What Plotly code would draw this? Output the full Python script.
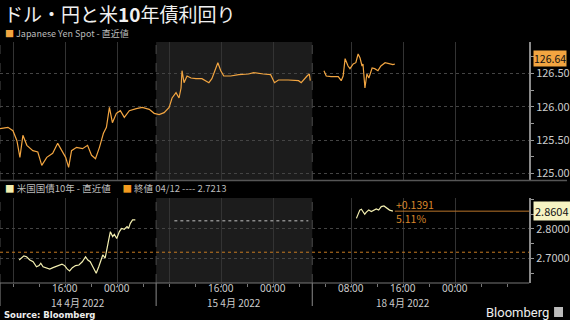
import plotly.graph_objects as go

# time axis: trading hours since 14 Apr 2022 06:00 (weekend removed; 18 Apr 02:00 -> 48)
yen_t = [0, 1.22, 1.99, 2.6, 3.06, 3.52, 4.13, 5.05, 5.81, 6.42, 7.19, 8.1, 8.87, 9.48, 10.09,
         10.55, 11.0, 11.77, 12.69, 13.46, 14.07, 14.68, 15.29, 15.9, 16.36, 16.82, 17.28, 17.89,
         18.5, 19.11, 19.88, 20.95, 21.87, 22.94, 23.7, 24.46, 25.23, 26.0, 26.45, 27.06, 27.52,
         27.83, 27.98, 28.29, 28.75, 29.36, 30.12, 31.04, 32.11, 32.57, 33.18, 33.49, 33.94, 34.4,
         35.47, 36.7, 38.2, 39.0, 40.5, 41.6, 42.2, 42.8, 44.3, 45.9, 46.3, 46.8, 47.2, 47.55, 47.7,
         48.7,
         49.8, 50.15, 50.9, 52.0, 52.45, 52.75, 53.05, 53.5, 53.8, 54.3, 54.7, 55.05, 55.35, 55.65,
         55.8, 56.1, 56.4, 56.7, 57.2, 57.6, 58.1, 58.55, 59.2, 59.9, 60.4, 60.7]
yen_v = [125.67, 125.69, 125.64, 125.49, 125.24, 125.57, 125.42, 125.34, 125.32, 125.12, 125.24,
         125.30, 125.45, 125.34, 125.24, 125.09, 125.34, 125.39, 125.37, 125.42, 125.27, 125.22,
         125.39, 125.60, 125.69, 125.99, 125.76, 125.90, 125.94, 125.84, 125.94, 125.97, 125.99,
         125.96, 125.90, 125.88, 125.91, 125.99, 126.13, 126.21, 126.13, 126.28, 126.54, 126.36,
         126.46, 126.43, 126.42, 126.42, 126.36, 126.42, 126.57, 126.66, 126.54, 126.46, 126.46,
         126.48, 126.49, 126.51, 126.49, 126.48, 126.36, 126.40, 126.40, 126.39, 126.36, 126.42,
         126.46, 126.49, 126.39,
         None,
         126.54, 126.46, 126.45, 126.45, 126.39, 126.46, 126.72, 126.61, 126.57, 126.64, 126.66,
         126.79, 126.73, 126.61, 126.64, 126.28, 126.49, 126.43, 126.58, 126.57, 126.54, 126.61,
         126.66, 126.64, 126.63, 126.64]

ust_t = [2.95, 3.32, 3.67, 4.08, 4.59, 5.09, 5.61, 6.01, 6.27, 6.62, 7.14, 7.65, 8.15, 8.67, 9.17,
         9.53, 9.94, 10.35, 10.7, 11.12, 11.62, 12.13, 12.65, 13.15, 13.5, 13.87, 14.27, 14.79,
         15.18, 15.55, 15.8, 16.16, 16.41, 16.71, 16.97, 17.32, 17.58, 17.94, 18.35, 18.7, 19.11,
         19.53, 19.77, 20.03, 20.38, 20.8,
         37.0,
         54.79, 55.05, 55.31, 55.55, 55.81, 56.07, 56.32, 56.68, 57.08, 57.49, 57.84, 58.21, 58.61,
         59.02, 59.37, 59.63, 59.89, 60.4]
ust_v = [2.695, 2.701, 2.709, 2.706, 2.695, 2.689, 2.672, 2.676, 2.684, 2.672, 2.669, 2.664, 2.669,
         2.674, 2.678, 2.681, 2.676, 2.664, 2.658, 2.669, 2.676, 2.678, 2.689, 2.706, 2.695, 2.689,
         2.672, 2.650, 2.672, 2.695, 2.712, 2.701, 2.735, 2.763, 2.791, 2.774, 2.782, 2.768, 2.791,
         2.802, 2.799, 2.808, 2.802, 2.819, 2.831, 2.831,
         None,
         2.836, 2.853, 2.864, 2.867, 2.859, 2.850, 2.857, 2.864, 2.859, 2.864, 2.868, 2.864, 2.876,
         2.878, 2.872, 2.870, 2.864, 2.8604]

yen_last = 126.64
ust_last = 2.8604
ust_close_0412 = 2.7213
ust_holiday_level = 2.828
ust_change = "+0.1391"
ust_change_pct = "5.11%"

grid_ticks = [2, 10, 18, 26, 34, 42, 54, 62, 70]
time_ticks = [10, 18, 34, 42, 54, 62, 70]
time_labels = ["16:00", "00:00", "16:00", "00:00", "08:00", "16:00", "00:00"]
date_pos = [12, 36, 62]
date_labels = ["14 4月 2022", "15 4月 2022", "18 4月 2022"]
day_bounds = [0, 24, 48]

yen_ticks = [125.0, 125.5, 126.0, 126.5]
ust_ticks = [2.7, 2.8]

W, H = 570, 320
XR = [0, 81.35]
XD = [0, 532 / W]
def py(p):
    return 1 - p / H

YEN_C = "#f2a541"
UST_C = "#f3efb0"
ORG = "#d9862a"
GRID = "#333333"
TXT = "#cccccc"
FONT = "Noto Sans CJK JP, Noto Sans, sans-serif"

fig = go.Figure()
fig.add_trace(go.Scatter(x=yen_t, y=yen_v, mode="lines", line=dict(color=YEN_C, width=1.2),
                         connectgaps=False, xaxis="x", yaxis="y", showlegend=False))
fig.add_trace(go.Scatter(x=ust_t, y=ust_v, mode="lines", line=dict(color=UST_C, width=1.2),
                         connectgaps=False, xaxis="x2", yaxis="y2", showlegend=False))

shapes = []
# shaded day 15
for yr in ["y domain", "y2 domain"]:
    xr = "x" if yr == "y domain" else "x2"
    shapes.append(dict(type="rect", xref=xr, yref=yr, x0=day_bounds[1], x1=day_bounds[2],
                       y0=0, y1=1, fillcolor="#1c1c1c", line_width=0, layer="below"))
    for b in day_bounds:
        shapes.append(dict(type="line", xref=xr, yref=yr, x0=b, x1=b, y0=0, y1=1,
                           line=dict(color="#4a4a4a", width=1, dash="dash"), layer="below"))
# day separator ticks below axis
for b in day_bounds:
    shapes.append(dict(type="line", xref="x2", yref="paper", x0=b, x1=b, y0=py(306), y1=py(283),
                       line=dict(color="#8a8a8a", width=1)))
# panel separator
shapes.append(dict(type="line", xref="paper", yref="paper", x0=0, x1=1, y0=py(180.5), y1=py(180.5),
                   line=dict(color="#555555", width=1.5)))
shapes.append(dict(type="line", xref="paper", yref="paper", x0=0, x1=XD[1], y0=py(283), y1=py(283),
                   line=dict(color="#777777", width=1)))
# reference lines
shapes.append(dict(type="line", xref="x2", yref="y2", x0=XR[0], x1=XR[1], y0=ust_close_0412,
                   y1=ust_close_0412, line=dict(color="#c77a22", width=1, dash="dot")))
shapes.append(dict(type="line", xref="x2", yref="y2", x0=ust_t[-1] + 0.3, x1=XR[1], y0=ust_last,
                   y1=ust_last, line=dict(color="#b8742a", width=1)))
shapes.append(dict(type="line", xref="x2", yref="y2", x0=26.8, x1=47.4, y0=ust_holiday_level,
                   y1=ust_holiday_level, line=dict(color="#8a8a8a", width=1.5, dash="dot")))

ann = []
ann.append(dict(xref="paper", yref="paper", x=2 / W, y=py(14), xanchor="left", yanchor="middle",
                text="ドル・円と米<b>10</b>年債利回り", showarrow=False,
                font=dict(size=19, color="#f0f0f0", family=FONT)))
ann.append(dict(xref="paper", yref="paper", x=3 / W, y=py(33), xanchor="left", yanchor="middle",
                text=f'<span style="color:{YEN_C}">■</span> Japanese Yen Spot - 直近値', showarrow=False,
                font=dict(size=9, color="#bbbbbb", family=FONT)))
ann.append(dict(xref="paper", yref="paper", x=3 / W, y=py(188), xanchor="left", yanchor="middle",
                text=f'<span style="color:{UST_C}">■</span> 米国国債10年 - 直近値　 '
                     f'<span style="color:#f29a1e">■</span> 終値 04/12 ---- {ust_close_0412:.4f}',
                showarrow=False, font=dict(size=9.5, color="#bbbbbb", family=FONT)))
for p, lab in zip(time_ticks, time_labels):
    ann.append(dict(xref="x2", yref="paper", x=p, y=py(287.5), xanchor="center", yanchor="middle",
                    text=lab, showarrow=False, borderpad=0,
                    font=dict(size=10, color=TXT, family="Noto Sans")))
for p, lab in zip(date_pos, date_labels):
    ann.append(dict(xref="x2", yref="paper", x=p, y=py(302), xanchor="center", yanchor="middle",
                    text=lab, showarrow=False, borderpad=0,
                    font=dict(size=10, color=TXT, family=FONT)))
ann.append(dict(xref="x2", yref="y2", x=ust_t[-1] + 0.2, y=ust_last, xanchor="left", yanchor="middle",
                text=f"{ust_change}<br>{ust_change_pct}", showarrow=False, align="left",
                font=dict(size=10.5, color=ORG, family=FONT)))
ann.append(dict(xref="paper", yref="y", x=536 / W, y=yen_last, xanchor="left", yanchor="middle",
                text=f"{yen_last:.2f}", showarrow=False, bgcolor=YEN_C, borderpad=0, yshift=5,
                font=dict(size=10.5, color="#111111", family=FONT)))
ann.append(dict(xref="paper", yref="y2", x=536 / W, y=ust_last, xanchor="left", yanchor="middle",
                text=f"{ust_last:.4f}", showarrow=False, bgcolor="#f6f3c2", borderpad=1,
                font=dict(size=11, color="#111111", family=FONT)))
ann.append(dict(xref="paper", yref="paper", x=3 / W, y=py(314.5), xanchor="left", yanchor="middle",
                text="<b>Source: Bloomberg</b>", showarrow=False, borderpad=0,
                font=dict(size=8.5, color="#eeeeee", family="DejaVu Sans")))
ann.append(dict(xref="paper", yref="paper", x=554 / W, y=py(312), xanchor="right", yanchor="middle",
                text="Bloomberg", showarrow=False,
                font=dict(size=13, color="#eeeeee", family="Roboto")))
shapes.append(dict(type="rect", xref="paper", yref="paper", x0=557 / W, x1=566 / W, y0=py(317),
                   y1=py(307), fillcolor="#bbbbbb", line_width=0))

xcommon = dict(range=XR, domain=XD, showgrid=True, gridcolor=GRID, gridwidth=1, zeroline=False,
               showline=False, fixedrange=True, showticklabels=False)
fig.update_layout(
    width=W, height=H, margin=dict(l=0, r=0, t=0, b=0),
    paper_bgcolor="#000000", plot_bgcolor="#000000",
    font=dict(family=FONT, color=TXT),
    xaxis=dict(anchor="y", tickvals=grid_ticks, ticks="", **xcommon),
    xaxis2=dict(anchor="y2", tickvals=grid_ticks, ticks="outside", ticklen=3,
                tickcolor="#777777", **xcommon,
                minor=dict(tickvals=[6, 14, 22, 30, 38, 46, 50, 58, 66, 74, 78],
                           ticks="outside", ticklen=3, tickcolor="#777777", showgrid=False)),
    yaxis=dict(domain=[py(180), py(42)], range=[124.9, 126.97], side="right", anchor="x",
               tickvals=yen_ticks, tickformat=".2f", ticks="outside", ticklen=3, tickcolor="#999999",
               showline=True, linecolor="#8a8a8a", linewidth=1.5, showgrid=True, gridcolor="#444444",
               griddash="dot", zeroline=False, tickfont=dict(size=11, color=TXT),
               minor=dict(dtick=0.25, ticks="outside", ticklen=3, tickcolor="#999999"),
               fixedrange=True),
    yaxis2=dict(domain=[py(283), py(198)], range=[2.617, 2.905], side="right", anchor="x2",
                tickvals=ust_ticks, tickformat=".4f", ticks="outside", ticklen=3, tickcolor="#999999",
                showline=True, linecolor="#8a8a8a", linewidth=1.5, showgrid=True, gridcolor="#444444",
                griddash="dot", zeroline=False, tickfont=dict(size=11, color=TXT),
                minor=dict(dtick=0.05, ticks="outside", ticklen=3, tickcolor="#999999"),
                fixedrange=True),
    shapes=shapes, annotations=ann, showlegend=False,
)
fig.write_html("out.html")
